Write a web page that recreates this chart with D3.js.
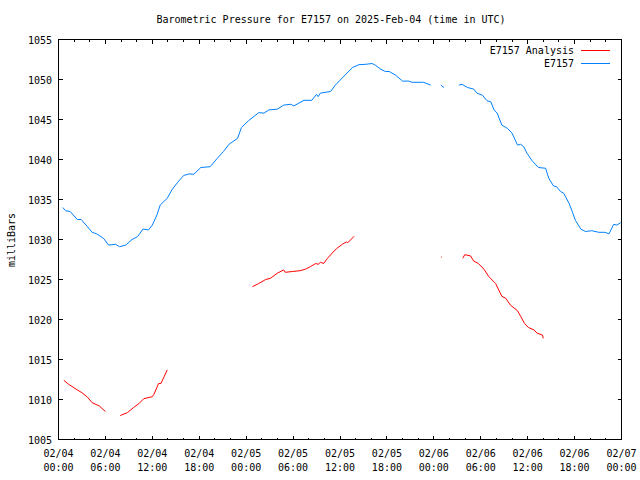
<!DOCTYPE html>
<html>
<head>
<meta charset="utf-8">
<script src="https://cdn.jsdelivr.net/npm/d3@7"></script>
<style>
  html, body { margin: 0; padding: 0; background: #fff; }
  svg { display: block; }
  text { font-family: "DejaVu Sans Mono", "Liberation Mono", monospace; font-size: 10px; fill: #000; }
</style>
</head>
<body>
<svg id="chart" width="640" height="480"></svg>
<script>
// ---------------- DATA ----------------
const chartTitle = "Barometric Pressure for E7157 on 2025-Feb-04 (time in UTC)";
const yAxisLabel = "milliBars";
const seriesNames = ["E7157 Analysis", "E7157"];
const startTime = "2025-02-04T00:00:00Z";
const endTime = "2025-02-07T00:00:00Z";
const yTicks = [1005, 1010, 1015, 1020, 1025, 1030, 1035, 1040, 1045, 1050, 1055];

// hours since 2025-02-04 00:00 UTC; null marks a gap
const analysisHours = [0.68,1.3,2.4,3.0,3.7,4.3,5.2,6.0, null,
  7.9,8.8,9.6,10.3,10.9,12.0,12.2,12.8,13.1,13.5,13.9, null,
  24.8,25.6,26.5,27.1,28.0,28.8,29.0,29.9,30.9,31.6,32.2,32.9,33.2,33.5,33.9,34.4,35.0,35.6,36.3,36.8,37.0,37.8, null,
  48.95,49.05, null,
  51.7,51.95,52.7,53.1,53.7,54.4,55.0,55.9,56.7,57.2,57.8,58.7,59.1,59.6,60.1,60.8,61.2,61.9,62.0];
const analysisValues = [1012.4,1011.9,1011.2,1010.85,1010.3,1009.6,1009.2,1008.5, null,
  1008.0,1008.35,1009.0,1009.5,1010.1,1010.35,1010.65,1012.0,1012.0,1012.85,1013.7, null,
  1024.1,1024.5,1025.0,1025.15,1025.8,1026.2,1025.9,1026.0,1026.1,1026.3,1026.6,1027.0,1026.9,1027.15,1027.0,1027.65,1028.3,1028.9,1029.4,1029.7,1029.6,1030.4, null,
  1027.8,1027.8, null,
  1027.65,1028.1,1027.95,1027.3,1027.0,1026.3,1025.4,1024.5,1022.9,1022.65,1021.8,1021.1,1020.4,1019.5,1019.0,1018.7,1018.3,1018.05,1017.65];

const stationHours = [0.55,0.9,1.5,2.4,2.9,3.7,4.3,4.9,5.8,6.4,7.3,7.8,8.6,9.4,10.1,10.8,11.5,12.0,12.6,13.0,13.9,14.5,15.2,16.0,16.7,17.3,18.2,19.4,20.3,21.1,21.8,22.9,23.4,24.3,25.6,26.3,26.9,28.0,28.8,29.7,30.1,31.4,32.4,33.0,33.2,33.5,34.8,35.4,36.3,36.9,37.6,38.4,39.3,40.1,40.5,41.2,41.8,42.3,43.1,44.0,44.8,45.2,46.7,47.6, null,
  48.9,49.3, null,
  51.2,51.6,52.3,53.1,53.5,54.2,54.8,55.3,55.7,56.1,56.7,57.4,58.0,58.7,59.1,59.5,59.9,60.6,61.4,62.3,62.7,63.3,63.7,64.2,64.6,65.3,65.7,66.1,66.8,67.4,68.2,69.1,69.9,70.4,71.0,71.4,71.9];
const stationValues = [1034.0,1033.6,1033.5,1032.5,1032.5,1031.6,1030.9,1030.7,1030.1,1029.3,1029.4,1029.1,1029.3,1030.0,1030.35,1031.3,1031.2,1031.8,1033.1,1034.3,1035.15,1036.2,1037.1,1038.0,1038.2,1038.15,1039.0,1039.1,1040.15,1041.0,1041.9,1042.65,1044.0,1044.85,1045.85,1045.8,1046.2,1046.3,1046.8,1046.9,1046.7,1047.4,1047.4,1048.15,1047.85,1048.3,1048.5,1049.3,1050.2,1050.8,1051.5,1051.85,1051.9,1052.0,1051.8,1051.3,1051.0,1051.0,1050.55,1049.8,1049.8,1049.65,1049.65,1049.3, null,
  1049.3,1049.0, null,
  1049.3,1049.4,1049.0,1048.8,1048.3,1048.05,1047.35,1047.2,1046.2,1045.8,1044.3,1043.9,1043.3,1041.8,1041.9,1041.6,1040.8,1039.8,1039.0,1038.9,1037.65,1036.7,1036.6,1036.0,1035.8,1034.5,1033.5,1032.4,1031.3,1031.0,1031.1,1030.9,1030.9,1030.7,1031.9,1031.8,1032.1];

const seriesColors = ["#ff0000", "#0080ff"];

// ---------------- DRAW ----------------
const svg = d3.select("#chart");
const L = 58.5, R = 621.5, T = 39.5, B = 439.5;
const t0 = new Date(startTime), t1 = new Date(endTime);
const x = d3.scaleUtc().domain([t0, t1]).range([L, R]);
const y = d3.scaleLinear().domain([1005, 1055]).range([B, T]);

const toDate = h => new Date(t0.getTime() + h * 3600e3);
function makePts(hours, values) {
  return hours.map((h, i) => (h == null || values[i] == null) ? null : {t: toDate(h), v: values[i]});
}

const g = svg.append("g");

// frame
g.append("rect").attr("x", L).attr("y", T).attr("width", R - L).attr("height", B - T)
  .attr("fill", "none").attr("stroke", "#000").attr("stroke-width", 1).attr("shape-rendering", "crispEdges");

// x ticks (minor every 2h, major every 6h), mirrored at top
const minorX = d3.utcHour.every(2).range(t0, new Date(t1.getTime() + 1));
minorX.forEach(d => {
  const major = d.getUTCHours() % 6 === 0;
  const len = major ? 4 : 2;
  const xx = Math.round(x(d) - 0.5) + 0.5;
  g.append("line").attr("x1", xx).attr("x2", xx).attr("y1", B).attr("y2", B - len)
    .attr("stroke", "#000").attr("shape-rendering", "crispEdges");
  g.append("line").attr("x1", xx).attr("x2", xx).attr("y1", T).attr("y2", T + len)
    .attr("stroke", "#000").attr("shape-rendering", "crispEdges");
});
const majorX = d3.utcHour.every(6).range(t0, new Date(t1.getTime() + 1));
const fmtDate = d3.utcFormat("%m/%d"), fmtTime = d3.utcFormat("%H:%M");
majorX.forEach(d => {
  const tx = g.append("text").attr("text-anchor", "middle").attr("x", x(d));
  tx.append("tspan").attr("x", x(d)).attr("y", 457).text(fmtDate(d));
  tx.append("tspan").attr("x", x(d)).attr("y", 471).text(fmtTime(d));
});

// y ticks, mirrored at right
yTicks.forEach(v => {
  const yy = Math.round(y(v) - 0.5) + 0.5;
  g.append("line").attr("x1", L).attr("x2", L + 4).attr("y1", yy).attr("y2", yy)
    .attr("stroke", "#000").attr("shape-rendering", "crispEdges");
  g.append("line").attr("x1", R).attr("x2", R - 4).attr("y1", yy).attr("y2", yy)
    .attr("stroke", "#000").attr("shape-rendering", "crispEdges");
  g.append("text").attr("x", 52).attr("y", y(v) + 4).attr("text-anchor", "end").text(v);
});

// title and axis label
svg.append("text").attr("x", 331).attr("y", 23).attr("text-anchor", "middle").text(chartTitle);
svg.append("text").attr("transform", "translate(15,240) rotate(-90)").attr("text-anchor", "middle").text(yAxisLabel);

// lines
const line = d3.line().defined(d => d != null).x(d => x(d.t)).y(d => y(d.v));
const series = [makePts(analysisHours, analysisValues), makePts(stationHours, stationValues)];
series.forEach((pts, i) => {
  g.append("path").datum(pts).attr("d", line).attr("fill", "none")
    .attr("stroke", seriesColors[i]).attr("stroke-width", 1);
});

// legend
seriesNames.forEach((name, i) => {
  const ly = 50 + i * 12.5;
  svg.append("text").attr("x", 574).attr("y", ly + 4).attr("text-anchor", "end").text(name);
  svg.append("line").attr("x1", 581).attr("x2", 610).attr("y1", Math.round(ly) + 0.5).attr("y2", Math.round(ly) + 0.5)
    .attr("stroke", seriesColors[i]).attr("stroke-width", 1).attr("shape-rendering", "crispEdges");
});
</script>
</body>
</html>
